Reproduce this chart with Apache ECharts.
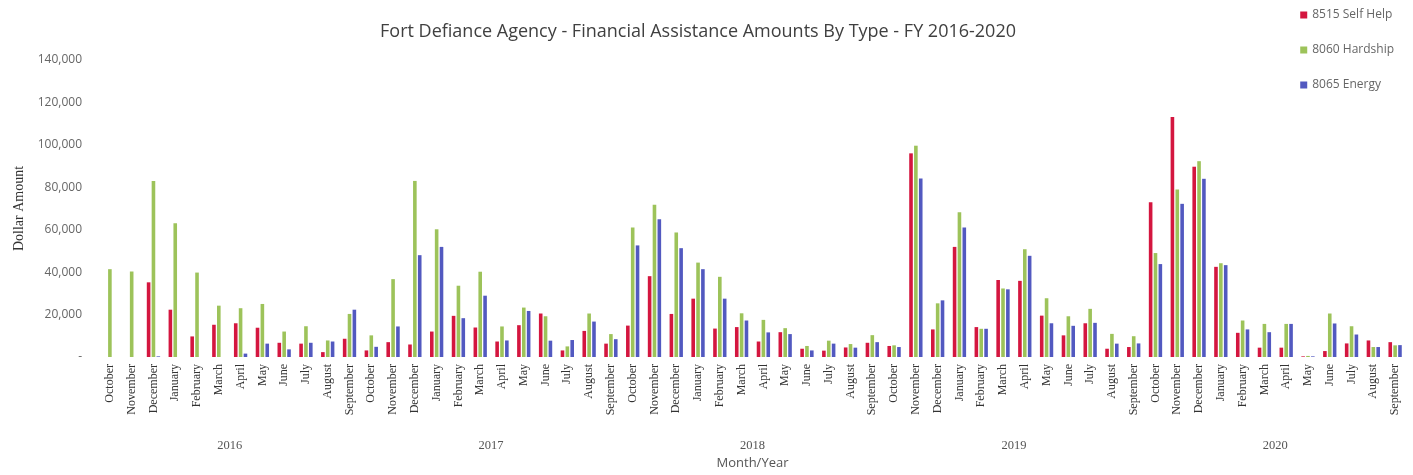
<!DOCTYPE html>
<html>
<head>
<meta charset="utf-8">
<script src="https://cdn.jsdelivr.net/npm/echarts@6/dist/echarts.min.js"></script>
<style>
html,body{margin:0;padding:0;background:#fff;}
#chart{width:1413px;height:475px;}
</style>
</head>
<body>
<div id="chart"></div>
<script>
// ---- data ----
const monthNames = ['October','November','December','January','February','March','April','May','June','July','August','September'];
const years = ['2016','2017','2018','2019','2020'];
const yTicks = [0, 20000, 40000, 60000, 80000, 100000, 120000, 140000];

const selfHelp = [
  0, 0, 35200, 22300, 9700, 15200, 15900, 13800, 6700, 6300, 2300, 8600,
  3100, 7000, 5900, 12000, 19400, 13900, 7300, 15000, 20500, 3100, 12300, 6300,
  14800, 38100, 20300, 27500, 13400, 14100, 7300, 11700, 3900, 3000, 4500, 6700,
  5200, 96000, 13000, 51900, 14100, 36300, 35900, 19500, 10200, 15900, 3900, 4700,
  72900, 113100, 89700, 42500, 11400, 4400, 4400, 300, 2800, 6400, 7800, 7000
];
const hardship = [
  41400, 40300, 83000, 63000, 39800, 24200, 23000, 25000, 12000, 14500, 7800, 20300,
  10200, 36700, 83000, 60200, 33600, 40200, 14400, 23300, 19200, 5000, 20500, 10800,
  61000, 71800, 58700, 44500, 37800, 20600, 17500, 13600, 5200, 7700, 6100, 10300,
  5500, 99600, 25300, 68200, 13300, 32300, 50800, 27700, 19200, 22700, 10900, 9800,
  49000, 79000, 92300, 44200, 17200, 15600, 15600, 500, 20500, 14500, 4700, 5500
];
const energy = [
  0, 0, 300, 0, 0, 0, 1600, 6300, 3600, 6700, 7300, 22300,
  4800, 14400, 48000, 51900, 18300, 28900, 7800, 21700, 7700, 8000, 16700, 8400,
  52600, 64900, 51300, 41400, 27500, 17200, 11600, 10800, 3100, 6300, 4400, 7000,
  4700, 84100, 26700, 61100, 13300, 31900, 47700, 15900, 14700, 16100, 6300, 6400,
  43800, 72200, 84000, 43300, 13000, 11700, 15600, 300, 15800, 10600, 4700, 5600
];

const categories = [];
years.forEach(function(){ monthNames.forEach(function(m){ categories.push(m); }); });

const chart = echarts.init(document.getElementById('chart'), null, {renderer:'canvas'});
const barW = 3.6;
const option = {
  backgroundColor: '#ffffff',
  animation: false,
  title: {
    text: 'Fort Defiance Agency - Financial Assistance Amounts By Type - FY 2016-2020',
    left: 693, top: 18, textAlign: 'center',
    textStyle: {fontFamily: 'Open Sans', fontSize: 18, fontWeight: 'normal', color: '#404040'}
  },
  legend: {
    orient: 'vertical', right: 14, top: 4, itemGap: 23,
    itemWidth: 7, itemHeight: 7, icon: 'rect', itemTextGap: 4,
    textStyle: {fontFamily: 'Open Sans', fontSize: 12, color: '#666'},
    data: ['8515 Self Help', '8060 Hardship', '8065 Energy']
  },
  grid: {left: 99, right: 7, top: 60, bottom: 118, containLabel: false},
  xAxis: [{
    type: 'category', data: categories, gridIndex: 0,
    axisLine: {show: false}, axisTick: {show: false},
    axisLabel: {interval: 0, rotate: 90, margin: 7, fontFamily: 'Liberation Serif', fontSize: 12, color: '#333'}
  }, {
    type: 'category', data: years, gridIndex: 0, position: 'bottom', offset: 78,
    axisLine: {show: false}, axisTick: {show: false},
    axisLabel: {interval: 0, margin: 4, fontFamily: 'Liberation Serif', fontSize: 12.5, color: '#555'},
    name: 'Month/Year', nameLocation: 'middle', nameGap: 22,
    nameTextStyle: {fontFamily: 'Open Sans', fontSize: 13, color: '#555'}
  }],
  yAxis: {
    type: 'value', min: yTicks[0], max: yTicks[yTicks.length - 1], interval: yTicks[1] - yTicks[0],
    splitLine: {show: false}, axisLine: {show: false}, axisTick: {show: false},
    axisLabel: {
      margin: 17, fontFamily: 'Open Sans', fontSize: 12, color: '#666',
      formatter: function(v){ return v === 0 ? '-' : v.toLocaleString('en-US'); }
    },
    name: 'Dollar Amount', nameLocation: 'middle', nameGap: 72, nameRotate: 90,
    nameTextStyle: {fontFamily: 'Liberation Serif', fontSize: 14, color: '#333'}
  },
  series: [
    {name: '8515 Self Help', type: 'bar', data: selfHelp, barWidth: barW, barGap: '35%', itemStyle: {color: '#d4163f'}},
    {name: '8060 Hardship', type: 'bar', data: hardship, barWidth: barW, barGap: '35%', itemStyle: {color: '#9dc35a'}},
    {name: '8065 Energy', type: 'bar', data: energy, barWidth: barW, barGap: '35%', itemStyle: {color: '#5259c0'}}
  ]
};
chart.setOption(option);
</script>
</body>
</html>
